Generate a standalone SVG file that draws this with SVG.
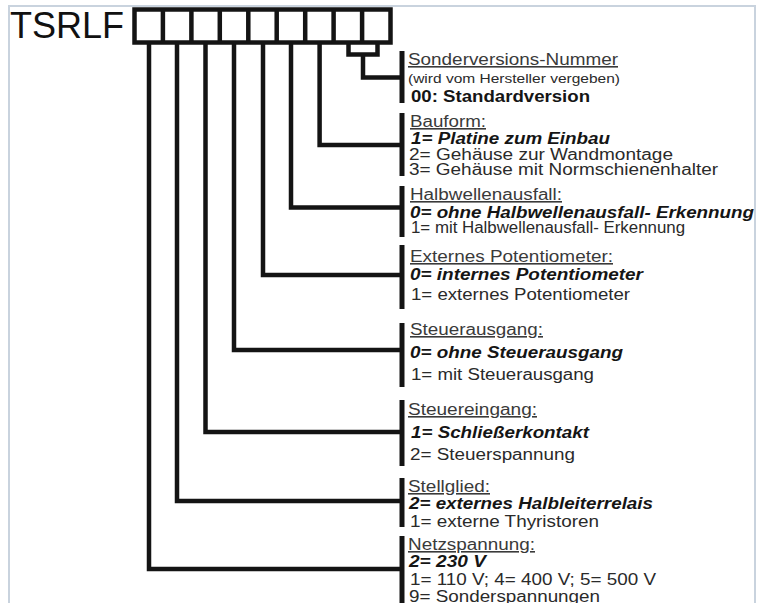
<svg xmlns="http://www.w3.org/2000/svg" width="769" height="603" viewBox="0 0 769 603">
<style>
.ln{fill:none;stroke:#141414;stroke-width:4.5;stroke-linecap:butt;stroke-linejoin:miter}
.bar{stroke:#141414;stroke-width:5}
.t{font-family:"Liberation Sans",Arial,sans-serif;font-size:16px;fill:#2a2a2a}
.h{text-decoration:underline;fill:#3a3a3a}
.b{font-weight:bold;fill:#151515}
.bi{font-weight:bold;font-style:italic;fill:#151515}
.s{font-size:13px}
.frame{fill:none;stroke:#c9d3de;stroke-width:2}
</style>
<rect x="0" y="0" width="769" height="603" fill="#ffffff"/>

<g id="header">
<text x="10" y="38" font-family="'Liberation Sans',Arial,sans-serif" font-size="36" fill="#111">TSRLF</text>
<rect x="134.5" y="9.5" width="256" height="33" class="ln" stroke-width="5"/>
<path class="ln" stroke-width="5" d="M162.9 9.5V42.5M191.4 9.5V42.5M219.8 9.5V42.5M248.3 9.5V42.5M276.7 9.5V42.5M305.2 9.5V42.5M333.6 9.5V42.5M362.1 9.5V42.5"/>
</g>

<g id="connectors">
<path class="ln" d="M348.5 42V54.5H377.5V42"/>
<path class="ln" d="M363 54.5V77.5H402"/>
<path class="ln" d="M319.6 42V145H402"/>
<path class="ln" d="M291 42V207.5H402"/>
<path class="ln" d="M263 42V275H402"/>
<path class="ln" d="M234 42V350H402"/>
<path class="ln" d="M205.5 42V432H402"/>
<path class="ln" d="M177 42V501H402"/>
<path class="ln" d="M149 42V569H402"/>
</g>

<g id="sonderversion">
<line class="bar" x1="402" y1="51" x2="402" y2="103"/>
<text class="t h" x="408" y="65" textLength="210" lengthAdjust="spacingAndGlyphs">Sonderversions-Nummer</text>
<text class="t s" x="408" y="83" textLength="212" lengthAdjust="spacingAndGlyphs">(wird vom Hersteller vergeben)</text>
<text class="t b" x="411" y="102" font-size="17" textLength="179" lengthAdjust="spacingAndGlyphs">00: Standardversion</text>
</g>

<g id="bauform">
<line class="bar" x1="402" y1="113" x2="402" y2="176"/>
<text class="t h" x="410" y="127" textLength="76" lengthAdjust="spacingAndGlyphs">Bauform:</text>
<text class="t bi" x="411" y="144" textLength="199" lengthAdjust="spacingAndGlyphs">1= Platine zum Einbau</text>
<text class="t" x="409" y="160" textLength="264" lengthAdjust="spacingAndGlyphs">2= Gehäuse zur Wandmontage</text>
<text class="t" x="409" y="175" textLength="309" lengthAdjust="spacingAndGlyphs">3= Gehäuse mit Normschienenhalter</text>
</g>

<g id="halbwellenausfall">
<line class="bar" x1="402" y1="186" x2="402" y2="237"/>
<text class="t h" x="410" y="200" textLength="152" lengthAdjust="spacingAndGlyphs">Halbwellenausfall:</text>
<text class="t bi" x="410" y="218" textLength="344" lengthAdjust="spacingAndGlyphs">0= ohne Halbwellenausfall- Erkennung</text>
<text class="t" x="411" y="233" textLength="274" lengthAdjust="spacingAndGlyphs">1= mit Halbwellenausfall- Erkennung</text>
</g>

<g id="potentiometer">
<line class="bar" x1="402" y1="245" x2="402" y2="309"/>
<text class="t h" x="410" y="262" textLength="203" lengthAdjust="spacingAndGlyphs">Externes Potentiometer:</text>
<text class="t bi" x="410" y="280" textLength="233" lengthAdjust="spacingAndGlyphs">0= internes Potentiometer</text>
<text class="t" x="411" y="300" textLength="219" lengthAdjust="spacingAndGlyphs">1= externes Potentiometer</text>
</g>

<g id="steuerausgang">
<line class="bar" x1="402" y1="323" x2="402" y2="387"/>
<text class="t h" x="410" y="335" textLength="133" lengthAdjust="spacingAndGlyphs">Steuerausgang:</text>
<text class="t bi" x="410" y="358" textLength="213" lengthAdjust="spacingAndGlyphs">0= ohne Steuerausgang</text>
<text class="t" x="411" y="380" textLength="183" lengthAdjust="spacingAndGlyphs">1= mit Steuerausgang</text>
</g>

<g id="steuereingang">
<line class="bar" x1="402" y1="400" x2="402" y2="466"/>
<text class="t h" x="408" y="415" textLength="129" lengthAdjust="spacingAndGlyphs">Steuereingang:</text>
<text class="t bi" x="411" y="438" textLength="178" lengthAdjust="spacingAndGlyphs">1= Schließerkontakt</text>
<text class="t" x="410" y="460" textLength="165" lengthAdjust="spacingAndGlyphs">2= Steuerspannung</text>
</g>

<g id="stellglied">
<line class="bar" x1="402" y1="478" x2="402" y2="527"/>
<text class="t h" x="408" y="492" textLength="82" lengthAdjust="spacingAndGlyphs">Stellglied:</text>
<text class="t bi" x="409" y="509" textLength="244" lengthAdjust="spacingAndGlyphs">2= externes Halbleiterrelais</text>
<text class="t" x="410" y="527" textLength="189" lengthAdjust="spacingAndGlyphs">1= externe Thyristoren</text>
</g>

<g id="netzspannung">
<line class="bar" x1="402" y1="536" x2="402" y2="603"/>
<text class="t h" x="408" y="550" textLength="127" lengthAdjust="spacingAndGlyphs">Netzspannung:</text>
<text class="t bi" x="409" y="567" textLength="77" lengthAdjust="spacingAndGlyphs">2= 230 V</text>
<text class="t" x="410" y="585" textLength="246" lengthAdjust="spacingAndGlyphs">1= 110 V; 4= 400 V; 5= 500 V</text>
<text class="t" x="409" y="602" textLength="191" lengthAdjust="spacingAndGlyphs">9= Sonderspannungen</text>
</g>

<path class="frame" d="M9 603V6H755V603"/>
</svg>
